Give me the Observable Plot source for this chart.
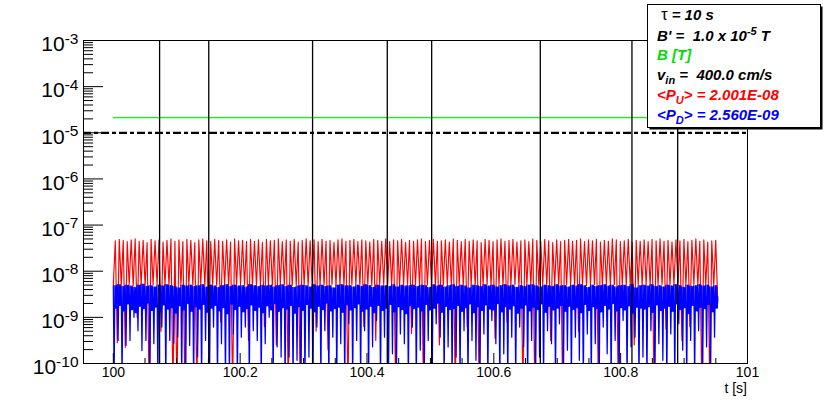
<!DOCTYPE html>
<html>
<head>
<meta charset="utf-8">
<script src="https://cdn.jsdelivr.net/npm/d3@7"></script>
<script src="https://cdn.jsdelivr.net/npm/@observablehq/plot@0.6"></script>
<style>
  body { margin: 0; background: #fff; }
  #chart { position: relative; width: 830px; height: 404px; }
</style>
</head>
<body>
<div id="chart"></div>
<script>
const FONT = "'Liberation Sans', Arial, Helvetica, sans-serif";

// ---- axes ----
const xDomain = [99.953, 101.0];
const yDomain = [1e-10, 1e-3];
const xMajor = [100, 100.2, 100.4, 100.6, 100.8, 101];
const xTickLabels = ["100", "100.2", "100.4", "100.6", "100.8", "101"];
const xMinor = [100.05, 100.1, 100.15, 100.25, 100.3, 100.35, 100.45, 100.5, 100.55,
                100.65, 100.7, 100.75, 100.85, 100.9, 100.95];
const yExponents = [-10, -9, -8, -7, -6, -5, -4, -3];
const yMinorMultipliers = [2, 3, 4, 5, 6, 7, 8, 9];
const xTitle = "t [s]";

// ---- series (log10 values per oscillation cycle) ----
const tStart = 100.0;      // first sample
const period = 0.00627;    // spacing of the oscillation peaks (s)

const redPeak = [
 -7.34,-7.31,-7.33,-7.36,-7.32,-7.30,-7.35,-7.33,-7.38,-7.31,-7.34,-7.32,-7.37,-7.33,-7.30,-7.35,-7.32,-7.36,-7.31,
 -7.33,-7.38,-7.32,-7.30,-7.34,-7.36,-7.31,-7.33,-7.35,-7.32,-7.37,-7.30,-7.34,-7.33,-7.36,-7.31,-7.35,-7.32,-7.38,
 -7.31,-7.34,-7.33,-7.30,-7.36,-7.32,-7.35,-7.31,-7.37,-7.33,-7.30,-7.34,-7.32,-7.36,-7.31,-7.35,-7.33,-7.38,-7.32,
 -7.30,-7.35,-7.33,-7.31,-7.36,-7.32,-7.34,-7.37,-7.31,-7.33,-7.35,-7.30,-7.36,-7.32,-7.34,-7.31,-7.38,-7.33,-7.35,
 -7.32,-7.30,-7.36,-7.33,-7.31,-7.35,-7.34,-7.32,-7.37,-7.30,-7.33,-7.36,-7.31,-7.35,-7.32,-7.34,-7.38,-7.31,-7.33,
 -7.36,-7.32,-7.30,-7.35,-7.33,-7.31,-7.37,-7.34,-7.32,-7.36,-7.30,-7.33,-7.35,-7.31,-7.34,-7.38,-7.32,-7.36,-7.33,
 -7.31,-7.35,-7.33,-7.30,-7.36,-7.32,-7.34,-7.31,-7.37,-7.33,-7.35,-7.30,-7.32,-7.36,-7.34,-7.31,-7.38,-7.33,-7.35,
 -7.32,-7.36,-7.31,-7.34,-7.30,-7.35,-7.33,-7.37,-7.32,-7.34,-7.31,-7.36,-7.33,-7.30,-7.35,-7.32,-7.37,-7.34,-7.33
];
const redTrough = [
 -8.30,-9.55,-8.31,-9.65,-8.29,-8.32,-9.00,-8.30,-8.31,-10.6,-8.30,-8.29,-9.30,-8.31,-8.30,-10.6,-10.6,-8.30,-10.6,
 -8.31,-8.30,-10.6,-8.29,-8.31,-9.40,-8.30,-8.32,-9.10,-8.30,-8.31,-10.6,-8.30,-8.29,-8.31,-9.50,-8.30,-8.31,-8.30,
 -9.20,-8.30,-8.31,-9.60,-8.29,-8.30,-10.6,-8.31,-8.30,-10.6,-8.30,-8.32,-8.30,-9.30,-8.31,-8.30,-9.70,-8.29,-8.31,
 -8.30,-8.31,-10.6,-8.30,-8.29,-8.31,-9.20,-8.30,-8.31,-9.50,-8.30,-8.29,-8.31,-8.30,-10.6,-8.31,-8.30,-8.29,-9.35,
 -8.30,-8.31,-10.6,-8.30,-8.29,-8.31,-9.60,-8.30,-8.31,-8.30,-10.6,-8.29,-8.31,-9.20,-8.30,-8.31,-10.6,-8.30,-8.29,
 -8.31,-9.45,-8.30,-8.31,-9.10,-8.30,-8.29,-8.31,-10.6,-8.30,-8.31,-10.6,-8.30,-8.29,-8.31,-9.50,-8.30,-8.31,-10.6,
 -8.30,-8.29,-8.31,-9.30,-8.30,-8.31,-8.30,-8.29,-10.6,-8.31,-8.30,-8.31,-8.29,-10.6,-8.30,-8.31,-8.30,-9.60,-8.29,
 -8.31,-8.30,-8.31,-10.6,-8.30,-8.29,-9.25,-8.31,-8.30,-8.31,-9.50,-8.30,-9.20,-8.29,-8.31,-10.6,-8.30,-10.6,-8.31
];
const redEnd = -8.68;

const blueHi = [
 -8.31,-8.29,-8.33,-8.30,-8.32,-8.35,-8.30,-8.28,-8.33,-8.31,-8.34,-8.30,-8.32,-8.29,-8.31,-8.33,-8.36,-8.30,-8.32,
 -8.30,-8.33,-8.31,-8.29,-8.34,-8.30,-8.32,-8.35,-8.31,-8.29,-8.33,-8.30,-8.32,-8.31,-8.34,-8.29,-8.31,-8.33,-8.30,
 -8.32,-8.30,-8.34,-8.31,-8.29,-8.33,-8.30,-8.35,-8.32,-8.30,-8.31,-8.34,-8.29,-8.32,-8.30,-8.33,-8.31,-8.36,-8.30,
 -8.29,-8.32,-8.31,-8.34,-8.30,-8.33,-8.29,-8.31,-8.35,-8.30,-8.32,-8.31,-8.33,-8.29,-8.34,-8.30,-8.32,-8.31,-8.30,
 -8.33,-8.30,-8.31,-8.35,-8.29,-8.32,-8.30,-8.34,-8.31,-8.29,-8.33,-8.30,-8.32,-8.36,-8.30,-8.31,-8.33,-8.29,-8.32,
 -8.30,-8.34,-8.31,-8.29,-8.32,-8.30,-8.35,-8.31,-8.33,-8.30,-8.29,-8.32,-8.34,-8.30,-8.31,-8.33,-8.29,-8.32,-8.31,
 -8.34,-8.30,-8.32,-8.29,-8.31,-8.35,-8.30,-8.33,-8.31,-8.29,-8.32,-8.30,-8.34,-8.31,-8.30,-8.33,-8.29,-8.36,-8.31,
 -8.30,-8.32,-8.29,-8.33,-8.31,-8.34,-8.30,-8.32,-8.29,-8.31,-8.35,-8.30,-8.33,-8.31,-8.29,-8.32,-8.30,-8.34,-8.31
];
const blueLo = [
 -8.80,-8.74,-8.86,-8.71,-8.83,-8.90,-8.76,-8.81,-8.69,-8.85,-8.78,-8.88,-8.73,-8.82,-8.79,-8.91,-8.75,-8.84,-8.70,
 -8.87,-8.77,-8.82,-8.72,-8.89,-8.80,-8.74,-8.86,-8.79,-8.92,-8.71,-8.83,-8.76,-8.88,-8.81,-8.73,-8.85,-8.78,-8.90,
 -8.75,-8.84,-8.70,-8.87,-8.79,-8.82,-8.74,-8.91,-8.77,-8.85,-8.72,-8.80,-8.88,-8.76,-8.83,-8.69,-8.86,-8.81,-8.78,
 -8.89,-8.73,-8.84,-8.79,-8.71,-8.87,-8.82,-8.76,-8.90,-8.74,-8.85,-8.80,-8.72,-8.88,-8.77,-8.83,-8.92,-8.75,-8.81,
 -8.78,-8.86,-8.72,-8.84,-8.80,-8.69,-8.89,-8.76,-8.83,-8.81,-8.74,-8.87,-8.79,-8.71,-8.90,-8.77,-8.85,-8.73,-8.82,
 -8.84,-8.70,-8.88,-8.77,-8.82,-8.75,-8.91,-8.80,-8.73,-8.86,-8.78,-8.83,-8.71,-8.89,-8.76,-8.84,-8.80,-8.74,-8.87,
 -8.76,-8.83,-8.79,-8.90,-8.72,-8.85,-8.77,-8.81,-8.88,-8.74,-8.82,-8.70,-8.86,-8.79,-8.84,-8.75,-8.91,-8.78,-8.80,
 -8.82,-8.77,-8.89,-8.73,-8.85,-8.80,-8.76,-8.87,-8.71,-8.83,-8.79,-8.92,-8.74,-8.86,-8.78,-8.81,-8.72,-8.88,-8.80
];
const blueDip = [
 -10.4,-9.50,-10.4,-9.61,-9.50,-9.00,-9.29,-9.72,-9.50,-10.4,-9.57,-10.4,-9.21,-10.4,-9.50,-9.57,-9.43,-10.4,-10.4,
 -9.61,-10.4,-9.86,-10.4,-9.50,-10.4,-9.21,-10.4,-9.57,-10.4,-10.4,
 -9.36,-10.4,-9.43,-9.21,-10.4,-9.29,-9.50,-10.4,-9.57,-9.00,-10.4,-9.64,-9.86,-10.4,-9.86,-10.4,-9.93,-10.4,-10.4,
 -9.86,-10.4,-9.21,-10.4,-9.29,-10.4,-9.43,-10.4,-9.57,-10.4,-9.14,-10.4,
 -9.50,-10.4,-9.29,-10.4,-9.64,-9.07,-10.4,-9.43,-10.4,-9.79,-10.4,-9.36,-9.57,-10.4,-9.21,-10.4,-9.71,-10.4,-9.50,
 -10.4,-9.14,-9.43,-10.4,-9.64,-10.4,-9.86,-10.4,-9.29,-10.4,-9.50,-9.93,-10.4,-9.36,-10.4,-9.07,-9.57,-10.4,-9.79,
 -10.4,-9.43,-10.4,-9.21,-9.64,-10.4,-9.50,-10.4,-9.86,-10.4,-9.29,-9.57,-10.4,-9.14,-10.4,-9.71,-10.4,-9.43,-9.93,
 -10.4,-9.36,-10.4,-9.57,-10.4,-9.21,-9.79,-10.4,-9.50,-10.4,-9.07,-10.4,-9.64,-9.43,-10.4,-9.86,-10.4,-9.29,-10.4,
 -9.57,-9.93,-10.4,-9.36,-10.4,-9.14,-9.71,-10.4,-9.50,-10.4,-9.29,-10.4,-9.64,-10.4,-9.43
];
const blueEnd = -8.55;

// black series: instants where it shoots through the whole range
const eventTimes = [100.073, 100.1505, 100.3142, 100.432, 100.502, 100.6733, 100.8178, 100.8899];

// green field line and threshold
const greenT = [100.0, 101.0];
const greenB = 2.14e-5;
const thresholdB = 1e-5;

// legend
const legendLines = [
  [{t: " "}, {t: "τ", plain: true}, {t: " = 10 s"}],
  [{t: "B' =  1.0 x 10"}, {t: "-5", sup: true}, {t: " T"}],
  [{t: "B [T]", color: "#00dd00"}],
  [{t: "v"}, {t: "in", sub: true}, {t: " =  400.0 cm/s"}],
  [{t: "<P", color: "#ff0000"}, {t: "U", sub: true, color: "#ff0000"}, {t: "> = 2.001E-08", color: "#ff0000"}],
  [{t: "<P", color: "#0000ff"}, {t: "D", sub: true, color: "#0000ff"}, {t: "> = 2.560E-09", color: "#0000ff"}]
];

// ---- build tables ----
const n = Math.min(redPeak.length, redTrough.length, blueHi.length, blueLo.length, blueDip.length);
const redData = [];
const blueData = [];
for (let i = 0; i < n; i++) {
  const t0 = tStart + i * period;
  redData.push({t: t0, v: 10 ** redTrough[i]});
  redData.push({t: t0 + 0.5 * period, v: 10 ** redPeak[i]});
  blueData.push({t: t0 + 0.0 * period, v: 10 ** blueHi[i]});
  blueData.push({t: t0 + 0.2 * period, v: 10 ** blueDip[i]});
  blueData.push({t: t0 + 0.4 * period, v: 10 ** blueHi[i]});
  blueData.push({t: t0 + 0.58 * period, v: 10 ** blueLo[i]});
  blueData.push({t: t0 + 0.74 * period, v: 10 ** blueHi[i]});
  blueData.push({t: t0 + 0.9 * period, v: 10 ** blueLo[i]});
}
redData.push({t: tStart + n * period, v: 10 ** redEnd});
blueData.push({t: tStart + n * period, v: 10 ** blueEnd});

const greenData = greenT.map(t => ({t, v: greenB}));
const yMajor = yExponents.map(e => 10 ** e);
const yMinor = [];
for (const e of yExponents.slice(0, -1)) for (const m of yMinorMultipliers) yMinor.push(m * 10 ** e);

const W = 830, H = 404, ML = 83, MR = 83, MT = 40, MB = 41;
const frameW = W - ML - MR, frameH = H - MT - MB;

const chart = Plot.plot({
  width: W, height: H,
  marginLeft: ML, marginRight: MR, marginTop: MT, marginBottom: MB,
  style: {fontFamily: FONT, fontSize: "14px", color: "black", background: "white"},
  x: {domain: xDomain, label: null},
  y: {type: "log", domain: yDomain, label: null},
  marks: [
    Plot.line(redData, {x: "t", y: "v", stroke: "#ff0000", strokeWidth: 1.15, clip: true}),
    Plot.line(blueData, {x: "t", y: "v", stroke: "#0000ff", strokeWidth: 1.25, clip: true}),
    Plot.line(greenData, {x: "t", y: "v", stroke: "#00ff00", strokeWidth: 1.3, clip: true}),
    Plot.ruleY([thresholdB], {stroke: "black", strokeWidth: 2.2, strokeDasharray: "8,3,4,3"}),
    Plot.ruleX(eventTimes, {stroke: "black", strokeWidth: 1.3}),
    Plot.tickY(yMajor, {y: d => d, stroke: "black", insetRight: frameW - 20}),
    Plot.tickY(yMinor, {y: d => d, stroke: "black", insetRight: frameW - 10}),
    Plot.tickX(xMajor, {x: d => d, stroke: "black", insetTop: frameH - 10}),
    Plot.tickX(xMinor, {x: d => d, stroke: "black", insetTop: frameH - 5}),
    Plot.axisX(xMajor, {tickSize: 0, tickPadding: 4, fontSize: 14,
      tickFormat: d => xTickLabels[xMajor.indexOf(d)]}),
    Plot.axisY(yMajor, {tickSize: 0, tickPadding: 5, fontSize: 21, dy: 4,
      tickFormat: d => "10|" + Math.round(Math.log10(d))}),
    Plot.frame({stroke: "black", strokeWidth: 1})
  ]
});
document.getElementById("chart").appendChild(chart);

const svg = d3.select(chart);
// superscript exponents on y tick labels
svg.selectAll('g[aria-label="y-axis tick label"] text').each(function () {
  const parts = this.textContent.split("|");
  const el = d3.select(this);
  el.text(null);
  el.append("tspan").text(parts[0]);
  el.append("tspan").attr("dy", -7.5).attr("font-size", "15.5px").text(parts[1]);
});

// x-axis title
svg.append("text")
  .attr("x", ML + frameW).attr("y", 393)
  .attr("text-anchor", "end")
  .attr("font-family", FONT).attr("font-size", 14)
  .text(xTitle);

// legend box
const lg = svg.append("g")
  .attr("font-family", FONT).attr("font-size", 15)
  .attr("font-weight", "bold").attr("font-style", "italic")
  .attr("text-anchor", "start")
  .style("white-space", "pre");
lg.append("rect").attr("x", 649.5).attr("y", 6.5).attr("width", 173).attr("height", 123).attr("fill", "black");
lg.append("rect").attr("x", 647.5).attr("y", 4.5).attr("width", 173).attr("height", 123)
  .attr("fill", "white").attr("stroke", "black").attr("stroke-width", 1);
const baselines = [20, 40.5, 60, 80, 100, 120];
legendLines.forEach((segs, k) => {
  const tx = lg.append("text").attr("x", 657).attr("y", baselines[k])
    .attr("text-anchor", "start").attr("xml:space", "preserve");
  let shift = 0;
  segs.forEach(s => {
    const want = s.sup ? -6 : s.sub ? 4 : 0;
    const ts = tx.append("tspan").text(s.t).attr("fill", s.color || "black");
    if (want !== shift) { ts.attr("dy", want - shift); shift = want; }
    if (s.sup || s.sub) ts.attr("font-size", 11);
    if (s.plain) ts.attr("font-style", "normal").attr("font-weight", "normal").attr("font-size", 16);
  });
});
</script>
</body>
</html>
